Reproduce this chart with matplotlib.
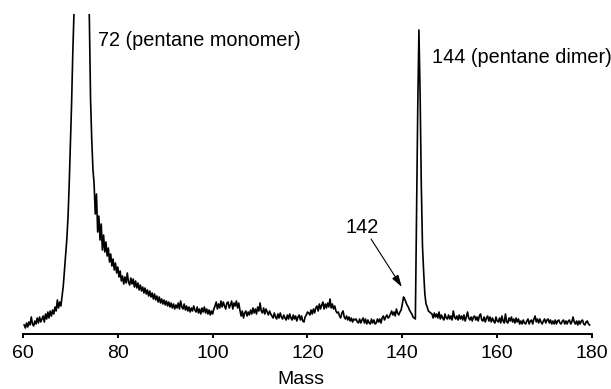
import numpy as np
import matplotlib
matplotlib.use('Agg')
import matplotlib.pyplot as plt

plt.rcParams['font.family'] = ['Liberation Sans', 'DejaVu Sans']
plt.rcParams['font.size'] = 14

# spectrum, sampled every 0.25 mass units starting at 60.25
mass_start = 60.25
mass_step = 0.25
intensity = [
    9, 6, 11, 7, 12, 9, 17, 10, 8, 13, 10, 16, 11, 17, 12, 15, 18, 12, 20, 15,
    22, 16, 23, 18, 24, 20, 27, 23, 34, 26, 32, 28, 38, 48, 64, 80, 95, 117, 150, 190,
    230, 280, 320, 380, 450, 540, 640, 760, 900, 1000, 900, 700, 540, 430, 360, 315, 235, 195, 165, 150,
    120, 140, 102, 118, 94, 110, 84, 99, 82, 92, 78, 86, 72, 80, 68, 75, 64, 71, 61, 67,
    57, 63, 53, 58, 50, 57, 51, 61, 52, 49, 56, 50, 55, 47, 53, 46, 51, 44, 49, 43,
    47, 41, 46, 40, 44, 38, 43, 37, 41, 35, 40, 34, 38, 32, 37, 31, 35, 30, 34, 29,
    33, 28, 32, 27, 31, 26, 30, 25, 29, 26, 31, 25, 33, 27, 25, 30, 24, 28, 23, 27,
    22, 26, 23, 28, 24, 22, 27, 21, 25, 20, 26, 22, 27, 21, 25, 20, 24, 19, 23, 20,
    25, 28, 32, 25, 30, 26, 33, 27, 32, 28, 25, 31, 32, 26, 29, 33, 25, 31, 28, 33,
    26, 31, 24, 18, 23, 16, 21, 23, 18, 22, 19, 24, 20, 26, 21, 25, 20, 27, 23, 31,
    23, 21, 26, 20, 25, 22, 19, 23, 20, 18, 16, 21, 17, 15, 20, 16, 21, 17, 15, 19,
    16, 14, 19, 15, 20, 16, 14, 19, 15, 18, 13, 17, 19, 14, 18, 13, 12, 17, 19, 22,
    21, 19, 24, 20, 25, 21, 26, 28, 23, 30, 25, 29, 32, 25, 30, 26, 31, 27, 35, 26,
    30, 25, 28, 23, 21, 22, 18, 16, 21, 23, 17, 15, 18, 14, 17, 13, 16, 12, 15, 14,
    15, 12, 11, 15, 11, 14, 16, 11, 15, 10, 14, 11, 10, 15, 11, 14, 10, 11, 15, 12,
    15, 11, 16, 18, 14, 17, 19, 16, 17, 20, 23, 19, 22, 18, 25, 21, 19, 22, 24, 30,
    37, 35, 32, 29, 27, 24, 22, 20, 17, 16, 15, 120, 225, 304, 240, 150, 88, 62, 40, 30,
    27, 23, 22, 21, 20, 16, 21, 17, 20, 16, 22, 15, 19, 16, 14, 20, 16, 15, 19, 15,
    18, 14, 23, 17, 15, 18, 14, 19, 15, 18, 14, 19, 13, 17, 22, 16, 14, 17, 13, 17,
    18, 14, 17, 13, 18, 20, 14, 13, 17, 12, 16, 18, 13, 17, 12, 16, 13, 11, 17, 13,
    12, 16, 11, 18, 13, 11, 20, 12, 11, 16, 13, 17, 12, 15, 11, 16, 12, 15, 10, 13,
    10, 14, 11, 10, 13, 15, 10, 13, 14, 10, 15, 18, 12, 15, 11, 15, 12, 10, 13, 15,
    11, 14, 15, 11, 14, 10, 13, 10, 14, 10, 13, 14, 11, 10, 13, 14, 10, 13, 10, 13,
    14, 10, 12, 17, 12, 10, 13, 9, 13, 10, 13, 14, 10, 9, 12, 13, 10, 9,
]
mass = mass_start + mass_step * np.arange(len(intensity))

xticks = [60, 80, 100, 120, 140, 160, 180]

fig = plt.figure(figsize=(6.11, 3.89), dpi=100)
ax = fig.add_axes([0.0376, 0.1414, 0.9313, 0.8226])

ax.plot(mass, intensity, color='black', lw=1.2)

ax.set_xlim(60, 180)
ax.set_ylim(0, 320)
ax.set_xticks(xticks)
ax.set_yticks([])
for s in ['left', 'top', 'right']:
    ax.spines[s].set_visible(False)
ax.spines['bottom'].set_linewidth(1.4)
ax.tick_params(axis='x', direction='out', length=3, width=1.4, pad=5, labelsize=14)

ax.set_xlabel('Mass', fontsize=14, labelpad=2)
ax.xaxis.set_label_coords(0.489, -0.115)

ax.text(75.75, 288, '72 (pentane monomer)', fontsize=14.3, va='baseline', ha='left')
ax.text(146.2, 271, '144 (pentane dimer)', fontsize=14.3, va='baseline', ha='left', clip_on=False)
ax.text(131.5, 101, '142', fontsize=14.3, va='baseline', ha='center')
ax.annotate('', xy=(139.9, 47), xytext=(133.4, 95),
            arrowprops=dict(arrowstyle='-|>,head_length=0.6,head_width=0.18',
                            color='black', lw=0.8, mutation_scale=12,
                            shrinkA=0, shrinkB=0))

fig.savefig('out.png', dpi=100)
